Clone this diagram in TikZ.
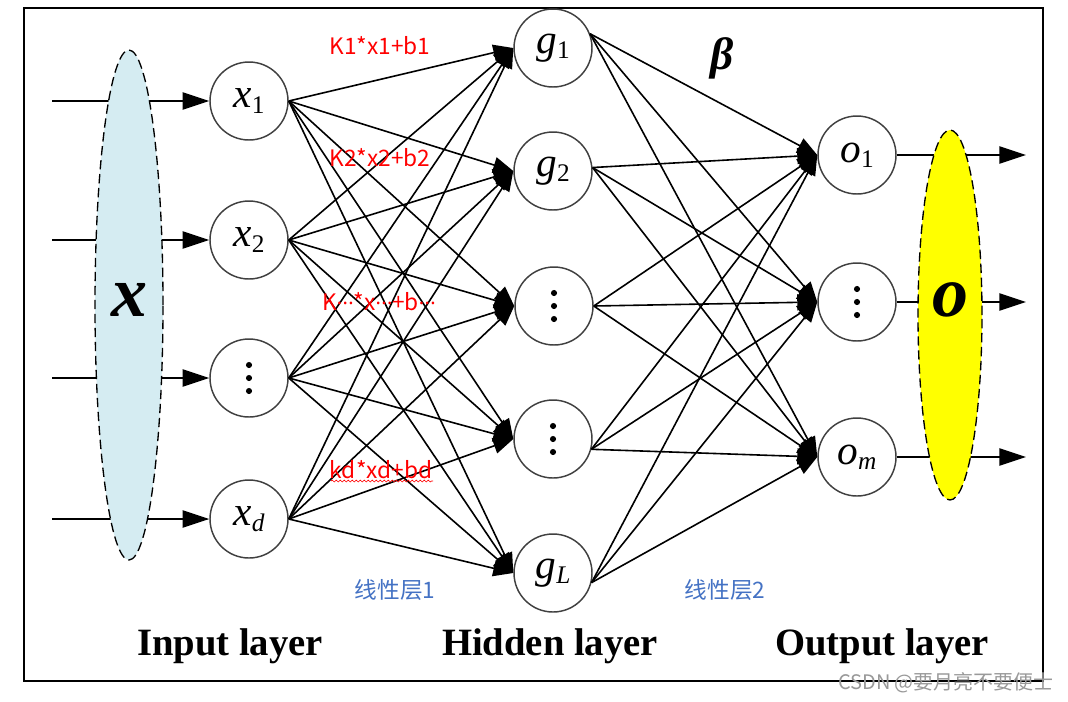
\documentclass[tikz,border=0pt]{standalone}
\usepackage{fontspec}
\setmainfont{Liberation Serif}
\newfontfamily\cjk{Noto Sans CJK SC}
\newfontfamily\lsans{Noto Sans}
\usetikzlibrary{arrows.meta,shapes.geometric,decorations.pathmorphing,calc}
\definecolor{lblue}{HTML}{D5ECF2}
\definecolor{lyellow}{HTML}{FFFF00}
\definecolor{lblfont}{HTML}{4472C4}
\newcommand\sbs[1]{\raisebox{-4pt}{\fontsize{19}{19}\selectfont #1}}
\newcommand\vl[2]{{\fontsize{31}{31}\selectfont\itshape #1}\sbs{#2}}
\newcommand\mdd{{\lsans\fontsize{15}{15}\selectfont·\kern0.3pt·\kern0.3pt·}}
\begin{document}
\begin{tikzpicture}[x=0.75pt,y=-0.75pt,
  neuron/.style={circle,draw=black!75,line width=1.1pt,minimum size=58.5pt,inner sep=0pt,fill=white},
  conn/.style={line width=1.2pt,-{Triangle[length=15pt,width=12pt]}},
  ioarrow/.style={line width=1pt,-{Triangle[length=20pt,width=13pt]}},
  vecell/.style={ellipse,draw=black,dashed,dash pattern=on 7pt off 3.5pt,line width=1pt,inner sep=0pt},
  redlbl/.style={text=red,font=\cjk\fontsize{17}{17}\selectfont},
  bluelbl/.style={text=lblfont,font=\cjk\fontsize{17}{17}\selectfont},
  layerlbl/.style={font=\fontsize{29}{29}\selectfont\bfseries},
  bigvec/.style={font=\fontsize{54}{54}\selectfont\bfseries\itshape}]
\useasboundingbox (0,0) rectangle (1068,701);
\fill[white] (0,0) rectangle (1068,701);
\draw[line width=1.5pt] (24,8) rectangle (1043,681);

% input nodes
\node[neuron] (x1) at (249,101) {\vl{x}{1}};
\node[neuron] (x2) at (249,240) {\vl{x}{2}};
\node[neuron] (i3) at (249,378) {};
\node[neuron] (xd) at (249,519) {\vl{x}{\itshape d}};
% hidden nodes
\node[neuron] (g1) at (553,48) {\vl{g}{1}};
\node[neuron] (g2) at (553,171) {\vl{g}{2}};
\node[neuron] (h3) at (554,306) {};
\node[neuron] (h4) at (553,439) {};
\node[neuron] (gL) at (553,573) {\vl{g}{\itshape L}};
% output nodes
\node[neuron] (o1) at (857,155) {\vl{o}{1}};
\node[neuron] (o2) at (857,302) {};
\node[neuron] (om) at (857,457) {\vl{o}{\itshape m}};

\foreach \n in {i3,h3,h4,o2}{
  \foreach \d in {-13,0,13}{
    \fill (\n) ++(0,\d) circle[radius=2.3pt];
  }
}

% input -> hidden
\foreach \i in {x1,x2,i3,xd}{
  \foreach \h in {g1,g2,h3,h4,gL}{
    \draw[conn] (\i.east) -- (\h.west);
  }
}
% hidden -> output
\foreach \h/\a in {g1/21,g2/5,h3/0,h4/-15,gL/-14}{
  \foreach \o in {o1,o2,om}{
    \draw[conn] (\h.\a) -- (\o.west);
  }
}

% input arrows
\foreach \n/\y in {x1/101,x2/240,i3/378,xd/519}{
  \coordinate (s\n) at (52,\y);
  \draw[ioarrow] (s\n) -- (\n.west);
}
% output arrows
\foreach \n/\y in {o1/155,o2/302,om/457}{
  \coordinate (t\n) at (1026,\y);
  \draw[ioarrow] (\n.east) -- (t\n);
}

% vector ellipses
\node[vecell,fill=lblue,minimum width=51pt,minimum height=382.5pt] (X) at (129,305) {};
\node[bigvec] (Xl) at (129,300) {x};
\node[vecell,fill=lyellow,minimum width=48pt,minimum height=277.5pt] (O) at (950,315) {};
\node[bigvec] (Ol) at (950,300) {o};

% beta
\node[font=\fontsize{34}{34}\selectfont\bfseries\itshape] (beta) at (722,58) {β};

% red labels
\node[redlbl] (k1) at (380,46) {K1*x1+b1};
\node[redlbl] (k2) at (380,158) {K2*x2+b2};
\node[redlbl] (k3) at (379,302) {K\mdd*x\mdd+b\mdd};
\node[redlbl] (k4) at (381,470) {kd*xd+bd};
\coordinate (w1) at (331,481);
\coordinate (w2) at (433,481);
\draw[red,line width=0.5pt,decorate,decoration={snake,amplitude=0.7pt,segment length=3pt}] (w1) -- (w2);

% blue labels
\node[bluelbl] (lin1) at (395,590) {线性层1};
\node[bluelbl] (lin2) at (725,590) {线性层2};

% layer labels
\node[layerlbl] (inl) at (230,646) {Input layer};
\node[layerlbl] (hil) at (550,646) {Hidden layer};
\node[layerlbl] (oul) at (882,646) {Output layer};

% watermark
\node[text=black!40,font=\cjk\fontsize{15}{15}\selectfont] (wm) at (946,683) {CSDN @要月亮不要便士};
\end{tikzpicture}
\end{document}
